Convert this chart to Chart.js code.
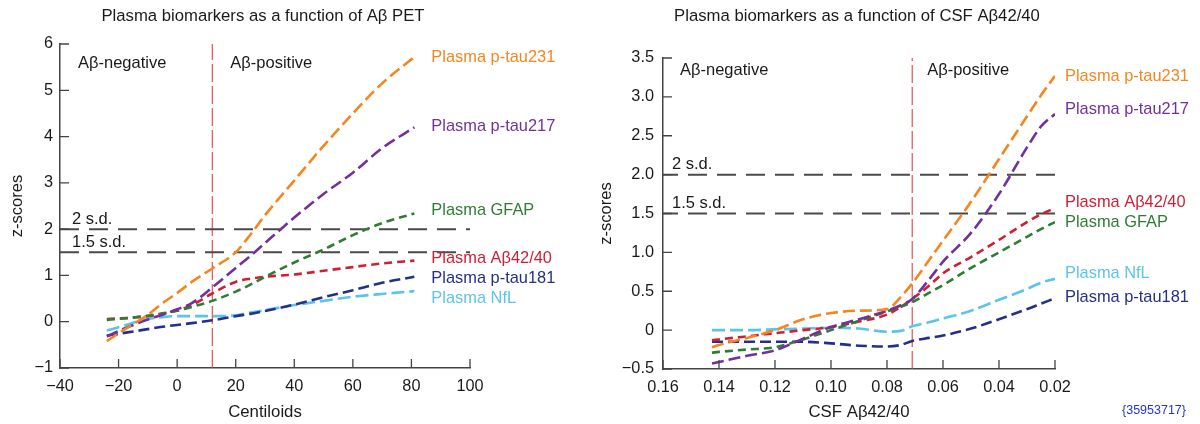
<!DOCTYPE html>
<html>
<head>
<meta charset="utf-8">
<title>Plasma biomarkers z-scores</title>
<script src="https://cdn.jsdelivr.net/npm/chart.js@4.4.1/dist/chart.umd.min.js"></script>
<style>
  html, body { margin: 0; padding: 0; background: #fff; }
  #wrap { position: relative; width: 1200px; height: 424px; font-family: "Liberation Sans", Arial, sans-serif; }
  .panel { position: absolute; top: 0; width: 600px; height: 424px; }
  #ref { position: absolute; left: 1122px; top: 403px; font-size: 12.5px; color: #2233dd; }
</style>
</head>
<body>
<div id="wrap">
  <div class="panel" style="left:0"><canvas id="petChart" width="600" height="424"></canvas></div>
  <div class="panel" style="left:600px"><canvas id="csfChart" width="600" height="424"></canvas></div>
  <div id="ref">{35953717}</div>
</div>
<script>
// series names, same order in both panels
const seriesNames = ['Plasma p-tau231', 'Plasma p-tau217', 'Plasma GFAP', 'Plasma A\u03b242/40', 'Plasma p-tau181', 'Plasma NfL'];

// left panel: z-scores vs Centiloids
const centiloids = [-24, -20, -15, -10, -5, 0, 5, 12, 20, 25, 30, 40, 50, 60, 70, 81];
const petTau231 = [-0.42, -0.25, -0.05, 0.15, 0.4, 0.62, 0.86, 1.15, 1.5, 1.88, 2.3, 3.05, 3.8, 4.5, 5.15, 5.72];
const petTau217 = [-0.32, -0.2, -0.07, 0.05, 0.15, 0.27, 0.4, 0.74, 1.16, 1.42, 1.7, 2.25, 2.76, 3.22, 3.75, 4.2];
const petGfap = [0.04, 0.06, 0.09, 0.13, 0.18, 0.24, 0.32, 0.45, 0.65, 0.8, 0.97, 1.28, 1.56, 1.87, 2.13, 2.34];
const petAb4240 = [0.06, 0.07, 0.09, 0.12, 0.17, 0.24, 0.36, 0.61, 0.86, 0.93, 0.97, 1.02, 1.1, 1.18, 1.26, 1.32];
const petTau181 = [-0.3, -0.26, -0.21, -0.16, -0.11, -0.07, -0.03, 0.03, 0.12, 0.17, 0.23, 0.37, 0.53, 0.68, 0.84, 0.97];
const petNfl = [-0.19, -0.12, -0.02, 0.06, 0.1, 0.12, 0.12, 0.12, 0.14, 0.2, 0.25, 0.36, 0.45, 0.54, 0.6, 0.66];
const petCutoff = 12;
const petXTicks = [-40, -20, 0, 20, 40, 60, 80, 100];
const petXLabels = ['\u221240', '\u221220', '0', '20', '40', '60', '80', '100'];
const petYTicks = [-1, 0, 1, 2, 3, 4, 5, 6];
const petYLabels = ['\u22121', '0', '1', '2', '3', '4', '5', '6'];

// right panel: z-scores vs CSF Aβ42/40 (axis runs high -> low)
const csfRatio = [0.1425, 0.14, 0.13, 0.12, 0.11, 0.10, 0.09, 0.08, 0.075, 0.071, 0.065, 0.06, 0.05, 0.04, 0.03, 0.025, 0.02];
const csfTau231 = [-0.22, -0.19, -0.1, 0.0, 0.14, 0.22, 0.25, 0.27, 0.43, 0.6, 0.9, 1.15, 1.65, 2.2, 2.75, 3.02, 3.27];
const csfTau217 = [-0.43, -0.41, -0.33, -0.26, -0.11, 0.04, 0.14, 0.25, 0.32, 0.4, 0.65, 0.88, 1.25, 1.75, 2.35, 2.62, 2.78];
const csfGfap = [-0.29, -0.28, -0.25, -0.22, -0.12, 0.0, 0.12, 0.24, 0.3, 0.36, 0.48, 0.58, 0.8, 1.0, 1.2, 1.3, 1.39];
const csfAb4240 = [-0.13, -0.12, -0.08, -0.04, 0.0, 0.04, 0.11, 0.2, 0.3, 0.4, 0.57, 0.73, 0.94, 1.16, 1.39, 1.49, 1.57];
const csfTau181 = [-0.15, -0.15, -0.15, -0.15, -0.15, -0.17, -0.2, -0.21, -0.19, -0.14, -0.1, -0.07, 0.02, 0.14, 0.27, 0.34, 0.41];
const csfNfl = [0.0, 0.0, 0.0, 0.01, 0.02, 0.03, 0.02, -0.02, -0.01, 0.05, 0.1, 0.15, 0.25, 0.39, 0.53, 0.61, 0.66];
const csfCutoff = 0.071;
const csfXTicks = [0.16, 0.14, 0.12, 0.10, 0.08, 0.06, 0.04, 0.02];
const csfXLabels = ['0.16', '0.14', '0.12', '0.10', '0.08', '0.06', '0.04', '0.02'];
const csfYTicks = [-0.5, 0, 0.5, 1, 1.5, 2, 2.5, 3, 3.5];
const csfYLabels = ['\u22120.5', '0', '0.5', '1.0', '1.5', '2.0', '2.5', '3.0', '3.5'];

// threshold lines
const sdLevels = [2, 1.5];
const sdLabels = ['2 s.d.', '1.5 s.d.'];

// styles
const seriesColors = ['#f5861f', '#74309a', '#2f7d32', '#cf1f34', '#23308a', '#5cc4ea'];
const seriesDash = [[12, 5], [12, 5], [8, 5], [8, 5], [11, 5], [13, 5]];
const FONT = '"Liberation Sans", Arial, sans-serif';

function curveSets(xs, series) {
    return series.map((ys, i) => ({
        label: seriesNames[i],
        data: xs.map((x, j) => ({ x: x, y: ys[j] })),
        borderColor: seriesColors[i],
        borderWidth: 2.6,
        borderDash: seriesDash[i],
        pointRadius: 0,
        cubicInterpolationMode: 'monotone',
        fill: false
    }));
}

function refSets(xMin, xMax, yMin, yMax, cutoff) {
    const sets = sdLevels.map(v => ({
        data: [{ x: xMin, y: v }, { x: xMax, y: v }],
        borderColor: '#4a4a4a',
        borderWidth: 2,
        borderDash: [19, 10],
        pointRadius: 0
    }));
    sets.push({
        data: [{ x: cutoff, y: yMin }, { x: cutoff, y: yMax }],
        borderColor: '#dd4444',
        borderWidth: 1.1,
        borderDash: [18, 4],
        pointRadius: 0
    });
    return sets;
}

// inward ticks, titles and in-plot text
const decorPlugin = {
    id: 'decor',
    afterDraw(chart, args, o) {
        const { ctx, chartArea: a, scales: { x, y } } = chart;
        ctx.save();
        ctx.strokeStyle = '#444';
        ctx.lineWidth = 1.3;
        ctx.beginPath();
        x.ticks.forEach(t => {
            const px = x.getPixelForValue(t.value);
            ctx.moveTo(px, a.bottom);
            ctx.lineTo(px, a.bottom - 9);
        });
        y.ticks.forEach(t => {
            const py = y.getPixelForValue(t.value);
            ctx.moveTo(a.left, py);
            ctx.lineTo(a.left + 9, py);
        });
        ctx.stroke();

        ctx.textBaseline = 'middle';
        ctx.fillStyle = '#1a1a1a';
        ctx.font = '16.7px ' + FONT;
        ctx.textAlign = 'center';
        ctx.fillText(o.title, o.titleX, 16);

        ctx.textAlign = 'left';
        ctx.font = '16.5px ' + FONT;
        const cut = x.getPixelForValue(o.cutoff);
        ctx.fillText('A\u03b2-negative', a.left + o.negDx, a.top + o.regionDy);
        ctx.fillText('A\u03b2-positive', cut + o.posDx, a.top + o.regionDy);

        sdLevels.forEach((v, i) => {
            ctx.fillText(sdLabels[i], a.left + o.sdDx, y.getPixelForValue(v) - 10);
        });

        ctx.font = '16.4px ' + FONT;
        o.series.forEach((ys, i) => {
            const last = ys.length - 1;
            const px = x.getPixelForValue(o.xs[last]) + o.labelGap;
            const py = y.getPixelForValue(ys[last]) + o.labelDy[i];
            ctx.fillStyle = seriesColors[i];
            ctx.fillText(seriesNames[i], px, py);
        });
        ctx.restore();
    }
};

function makeChart(id, cfg) {
    const ctx = document.getElementById(id).getContext('2d');
    return new Chart(ctx, {
        type: 'line',
        data: { datasets: curveSets(cfg.xs, cfg.series).concat(refSets(cfg.xMin, cfg.xMax, cfg.yMin, cfg.yMax, cfg.cutoff)) },
        options: {
            responsive: false,
            animation: false,
            layout: { padding: cfg.padding },
            plugins: {
                legend: { display: false },
                tooltip: { enabled: false },
                decor: cfg.decor
            },
            scales: {
                x: {
                    type: 'linear',
                    min: cfg.xMin,
                    max: cfg.xMax,
                    reverse: cfg.reverse,
                    afterBuildTicks: s => { s.ticks = cfg.xTicks.map(v => ({ value: v })); },
                    afterFit: s => { s.height = cfg.xHeight; },
                    grid: { display: false, drawTicks: false },
                    border: { display: true, color: '#444', width: 1.5 },
                    ticks: {
                        padding: 9,
                        color: '#1a1a1a',
                        font: { family: FONT, size: 16.3 },
                        maxRotation: 0,
                        callback: (v, i) => cfg.xLabels[i]
                    },
                    title: {
                        display: true,
                        text: cfg.xTitle,
                        color: '#1a1a1a',
                        font: { family: FONT, size: 16.8 },
                        padding: { top: 4, bottom: 1.5 }
                    }
                },
                y: {
                    min: cfg.yMin,
                    max: cfg.yMax,
                    afterBuildTicks: s => { s.ticks = cfg.yTicks.map(v => ({ value: v })); },
                    afterFit: s => { s.width = cfg.yWidth; },
                    grid: { display: false, drawTicks: false },
                    border: { display: true, color: '#444', width: 1.5 },
                    ticks: {
                        padding: cfg.yPad,
                        color: '#1a1a1a',
                        font: { family: FONT, size: 16.3 },
                        callback: (v, i) => cfg.yLabels[i]
                    },
                    title: {
                        display: true,
                        text: 'z-scores',
                        color: '#1a1a1a',
                        font: { family: FONT, size: 16.5, lineHeight: 1 },
                        padding: { top: cfg.yTitlePad, bottom: 0 }
                    }
                }
            }
        },
        plugins: [decorPlugin]
    });
}

const petSeries = [petTau231, petTau217, petGfap, petAb4240, petTau181, petNfl];
const csfSeries = [csfTau231, csfTau217, csfGfap, csfAb4240, csfTau181, csfNfl];

makeChart('petChart', {
    xs: centiloids, series: petSeries,
    xMin: -40, xMax: 100, yMin: -1, yMax: 6, cutoff: petCutoff, reverse: false,
    xTicks: petXTicks, xLabels: petXLabels, yTicks: petYTicks, yLabels: petYLabels,
    xTitle: 'Centiloids',
    padding: { top: 44, right: 130, bottom: 0, left: 0 },
    xHeight: 56, yWidth: 60, yPad: 7, yTitlePad: 9,
    decor: {
        title: 'Plasma biomarkers as a function of A\u03b2 PET', titleX: 263,
        cutoff: petCutoff, negDx: 18, posDx: 18, regionDy: 19, sdDx: 12,
        xs: centiloids, series: petSeries, labelGap: 17,
        labelDy: [1, -1, -3, -2.5, 2, 7]
    }
});

makeChart('csfChart', {
    xs: csfRatio, series: csfSeries,
    xMin: 0.02, xMax: 0.16, yMin: -0.5, yMax: 3.5, cutoff: csfCutoff, reverse: true,
    xTicks: csfXTicks, xLabels: csfXLabels, yTicks: csfYTicks, yLabels: csfYLabels,
    xTitle: 'CSF A\u03b242/40',
    padding: { top: 58, right: 145, bottom: 0, left: 0 },
    xHeight: 55, yWidth: 63, yPad: 9, yTitlePad: -2,
    decor: {
        title: 'Plasma biomarkers as a function of CSF A\u03b242/40', titleX: 257,
        cutoff: csfCutoff, negDx: 17, posDx: 15, regionDy: 12, sdDx: 9,
        xs: csfRatio, series: csfSeries, labelGap: 10,
        labelDy: [1, -4, 0, -6, -1, -5]
    }
});
</script>
</body>
</html>
